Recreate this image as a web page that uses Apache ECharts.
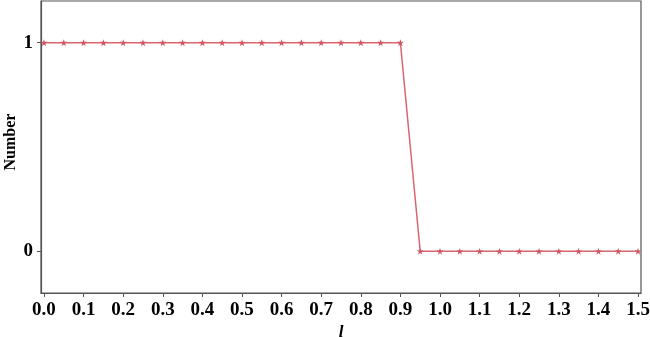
<!DOCTYPE html>
<html><head><meta charset="utf-8">
<script src="https://cdn.jsdelivr.net/npm/echarts@6/dist/echarts.min.js"></script>
<style>html,body{margin:0;padding:0;background:#fff}#c{width:650px;height:337px}</style>
</head><body><div id="c"></div>
<script>
const xValues = [0.0,0.05,0.1,0.15,0.2,0.25,0.3,0.35,0.4,0.45,0.5,0.55,0.6,0.65,0.7,0.75,0.8,0.85,0.9,0.95,1.0,1.05,1.1,1.15,1.2,1.25,1.3,1.35,1.4,1.45,1.5];
const numbers = [1,1,1,1,1,1,1,1,1,1,1,1,1,1,1,1,1,1,1,0,0,0,0,0,0,0,0,0,0,0,0];
const xTicks = [0.0,0.1,0.2,0.3,0.4,0.5,0.6,0.7,0.8,0.9,1.0,1.1,1.2,1.3,1.4,1.5];
const yTicks = [0,1];
const font = '"Liberation Serif","Times New Roman",serif';
const chart = echarts.init(document.getElementById('c'));
chart.setOption({
  animation:false,
  grid:{left:41,right:9,top:1,bottom:44,show:true,borderColor:'#555',borderWidth:1.2,outerBoundsMode:'none',containLabel:false},
  xAxis:{type:'value',min:-0.0075,max:1.5075,
    name:'l',nameLocation:'middle',nameGap:31,nameMoveOverlap:false,
    nameTextStyle:{fontFamily:font,fontSize:17,fontWeight:'bold',fontStyle:'italic',color:'#000'},
    axisLine:{show:true,onZero:false,lineStyle:{color:'#555',width:1.2}},
    splitLine:{show:false},
    axisTick:{show:true,length:4,customValues:xTicks,lineStyle:{color:'#555'}},
    axisLabel:{customValues:xTicks,margin:8,fontFamily:font,fontSize:19,fontWeight:'bold',color:'#000',
      formatter:v=>v.toFixed(1)}},
  yAxis:{type:'value',min:-0.2,max:1.2,
    name:'Number',nameLocation:'middle',nameGap:22,nameMoveOverlap:false,
    nameTextStyle:{fontFamily:font,fontSize:16,fontWeight:'bold',color:'#000',padding:[0,0,0,10]},
    axisLine:{show:true,onZero:false,lineStyle:{color:'#555',width:1.2}},
    splitLine:{show:false},
    axisTick:{show:true,length:4,customValues:yTicks,lineStyle:{color:'#555'}},
    axisLabel:{customValues:yTicks,margin:8,fontFamily:font,fontSize:19,fontWeight:'bold',color:'#000'}},
  series:[{type:'line',data:xValues.map((x,i)=>[x,numbers[i]]),
    lineStyle:{color:'#d9656d',width:1.5},
    symbol:'path://M50,0 L61.8,35.5 L100,35.5 L69.1,57.5 L80.9,95 L50,72 L19.1,95 L30.9,57.5 L0,35.5 L38.2,35.5 Z',
    symbolSize:7,
    itemStyle:{color:'#cf5560'}}]
});
</script></body></html>
